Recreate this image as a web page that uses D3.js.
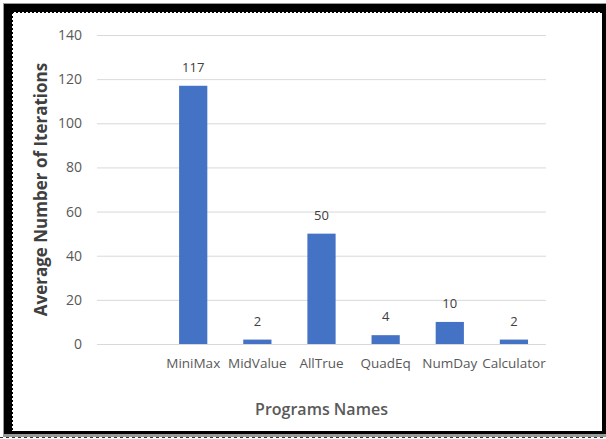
<!DOCTYPE html>
<html>
<head>
<meta charset="utf-8">
<script src="https://cdn.jsdelivr.net/npm/d3@7"></script>
<style>
  html, body { margin: 0; padding: 0; background: #ffffff; }
  svg { display: block; }
  text { font-family: "Open Sans", "Noto Sans", sans-serif; }
</style>
</head>
<body>
<svg id="chart" width="606" height="439"></svg>
<script>
// Average iteration counts per program (first slot is an empty category)
const programs = ["", "MiniMax", "MidValue", "AllTrue", "QuadEq", "NumDay", "Calculator"];
const iterations = [null, 117, 2, 50, 4, 10, 2];
const yTicks = [0, 20, 40, 60, 80, 100, 120, 140];

const svg = d3.select("#chart");

// Frame: heavy black border with a dotted inner edge
svg.append("rect").attr("x", 3).attr("y", 3).attr("width", 604).attr("height", 434)
  .attr("fill", "#9a9a9a");
svg.append("rect").attr("x", 4).attr("y", 4).attr("width", 602).attr("height", 430)
  .attr("fill", "#000");
svg.append("rect").attr("x", 12).attr("y", 12).attr("width", 590).attr("height", 419)
  .attr("fill", "#fff");
svg.append("line").attr("x1", 12).attr("x2", 602).attr("y1", 12.5).attr("y2", 12.5)
  .attr("stroke", "#000").attr("stroke-width", 1).attr("stroke-dasharray", "2,2");
svg.append("line").attr("x1", 12.5).attr("x2", 12.5).attr("y1", 12).attr("y2", 431)
  .attr("stroke", "#000").attr("stroke-width", 1).attr("stroke-dasharray", "2,2");
svg.append("line").attr("x1", 0).attr("x2", 606).attr("y1", 437.5).attr("y2", 437.5)
  .attr("stroke", "#333").attr("stroke-width", 1.2).attr("stroke-dasharray", "3,3");

const plot = { left: 97, right: 546, top: 35, bottom: 344 };

const x = d3.scaleBand()
  .domain(programs)
  .range([plot.left, plot.right])
  .paddingInner(0.56)
  .paddingOuter(0.28);

const y = d3.scaleLinear()
  .domain([0, 140])
  .range([plot.bottom, plot.top]);

// Horizontal gridlines
const yAxis = d3.axisLeft(y)
  .tickValues(yTicks)
  .tickSize(-(plot.right - plot.left))
  .tickPadding(15);

const gy = svg.append("g")
  .attr("transform", `translate(${plot.left},0)`)
  .call(yAxis);
gy.select(".domain").remove();
gy.selectAll(".tick line").attr("stroke", "#d9d9d9").attr("stroke-width", 1);
gy.selectAll(".tick text")
  .attr("fill", "#595959")
  .style("font-size", "14px");

// Category axis labels
const xAxis = d3.axisBottom(x).tickSize(0).tickPadding(14);
const gx = svg.append("g")
  .attr("transform", `translate(0,${plot.bottom})`)
  .call(xAxis);
gx.select(".domain").remove();
gx.selectAll(".tick text")
  .attr("fill", "#595959")
  .style("font-size", "13.5px");

// Bars
const data = programs.map((p, i) => ({ name: p, value: iterations[i] }))
  .filter(d => d.value !== null);

svg.append("g").selectAll("rect")
  .data(data)
  .join("rect")
  .attr("x", d => x(d.name))
  .attr("y", d => y(d.value))
  .attr("width", x.bandwidth())
  .attr("height", d => y(0) - y(d.value))
  .attr("fill", "#4472c4");

// Value labels above bars
svg.append("g").selectAll("text")
  .data(data)
  .join("text")
  .attr("x", d => x(d.name) + x.bandwidth() / 2)
  .attr("y", d => y(d.value) - 14)
  .attr("text-anchor", "middle")
  .attr("fill", "#404040")
  .style("font-size", "13px")
  .text(d => d.value);

// Axis titles
svg.append("text")
  .attr("transform", `translate(47,${(plot.top + plot.bottom) / 2}) rotate(-90)`)
  .attr("text-anchor", "middle")
  .attr("fill", "#404040")
  .style("font-size", "17px")
  .style("font-weight", "700")
  .text("Average Number of Iterations");

svg.append("text")
  .attr("x", (plot.left + plot.right) / 2)
  .attr("y", 415)
  .attr("text-anchor", "middle")
  .attr("fill", "#595959")
  .style("font-size", "16px")
  .style("font-weight", "600")
  .text("Programs Names");
</script>
</body>
</html>
